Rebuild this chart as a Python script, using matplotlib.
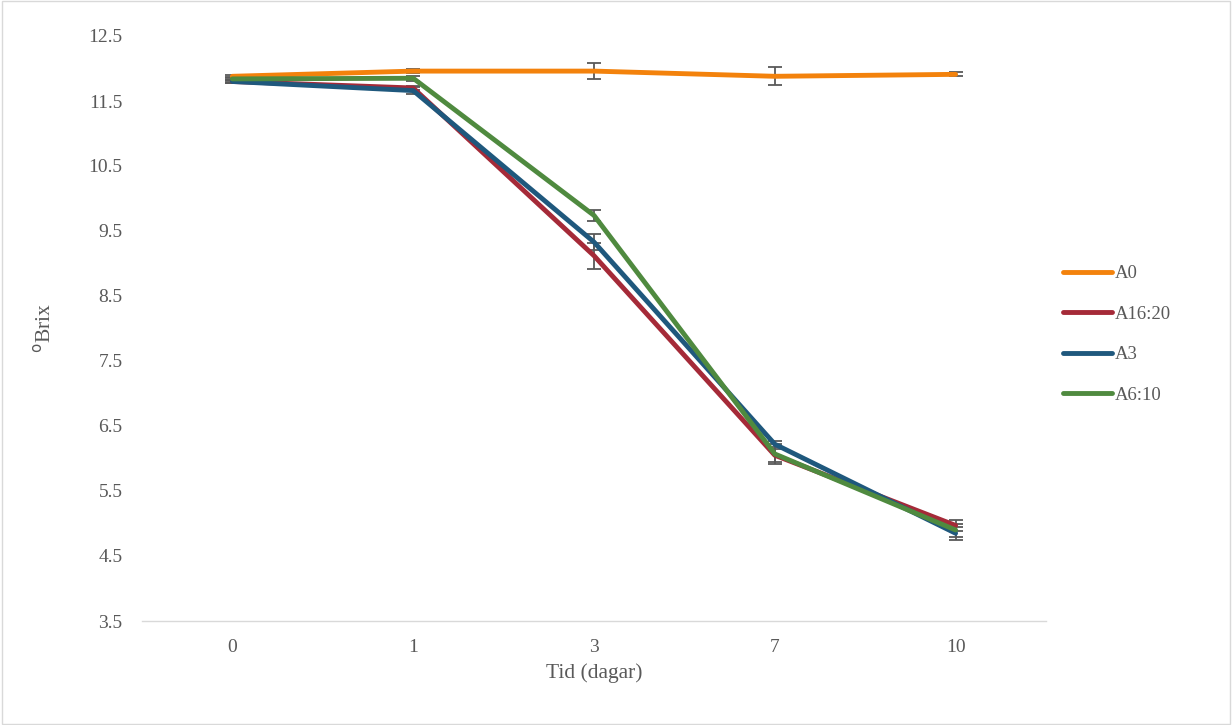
import matplotlib.pyplot as plt
from matplotlib.patches import Rectangle

# Brix over fermentation time, mean ± error per treatment
days = ['0', '1', '3', '7', '10']
a0 = [11.88, 11.96, 11.96, 11.88, 11.91]
a16_20 = [11.80, 11.70, 9.12, 6.05, 4.97]
a3 = [11.80, 11.66, 9.33, 6.22, 4.85]
a6_10 = [11.84, 11.85, 9.74, 6.07, 4.90]

a0_err = [0.02, 0.03, 0.12, 0.14, 0.03]
a16_20_err = [0.03, 0.03, 0.2, 0.1, 0.08]
a3_err = [0.03, 0.05, 0.12, 0.05, 0.1]
a6_10_err = [0.03, 0.04, 0.08, 0.15, 0.1]

series = [
    ('A0', a0, a0_err, '#F3820C'),
    ('A16:20', a16_20, a16_20_err, '#A52A38'),
    ('A3', a3, a3_err, '#1F587D'),
    ('A6:10', a6_10, a6_10_err, '#4F8A3F'),
]

plt.rcParams['font.family'] = ['Liberation Serif', 'DejaVu Serif']

fig = plt.figure(figsize=(12.32, 7.25), dpi=100)
ax = fig.add_axes([142 / 1232, 1 - 621 / 725, 904 / 1232, 585 / 725])

x = list(range(len(days)))
for name, vals, err, col in series:
    ax.plot(x, vals, color=col, lw=3.5, label=name, solid_capstyle='round',
            solid_joinstyle='round', zorder=3)
    ax.errorbar(x, vals, yerr=err, fmt='none', ecolor='#595959', elinewidth=1.3,
                capsize=5, capthick=1.3, zorder=2)

ax.set_xlim(-0.5, 4.5)
ax.set_ylim(3.5, 12.5)
ax.set_yticks([3.5 + i for i in range(10)])
ax.set_yticklabels([f'{3.5 + i:.1f}' for i in range(10)])
ax.set_xticks(x)
ax.set_xticklabels(days)
ax.tick_params(axis='both', length=0, labelsize=14, colors='#595959', pad=13)
ax.tick_params(axis='y', pad=14)

for side in ['top', 'right', 'left']:
    ax.spines[side].set_visible(False)
ax.spines['bottom'].set_color('#D9D9D9')
ax.spines['bottom'].set_linewidth(1)

ax.set_xlabel('Tid (dagar)', fontsize=15.5, color='#595959', labelpad=5)
ax.set_ylabel('$^{\\mathrm{o}}$Brix', fontsize=15.5, color='#595959', labelpad=24)

leg = ax.legend(loc='center left', bbox_to_anchor=(1.0, 0.49), frameon=False,
                fontsize=13.5, handlelength=2.6, labelspacing=1.25, handletextpad=0.15)
for txt in leg.get_texts():
    txt.set_color('#595959')

# light frame round the whole chart
fig.patches.append(Rectangle((0.002, 0.002), 0.996, 0.996, transform=fig.transFigure,
                             fill=False, edgecolor='#D9D9D9', lw=1))

fig.savefig('out.png', dpi=100, facecolor='white')
